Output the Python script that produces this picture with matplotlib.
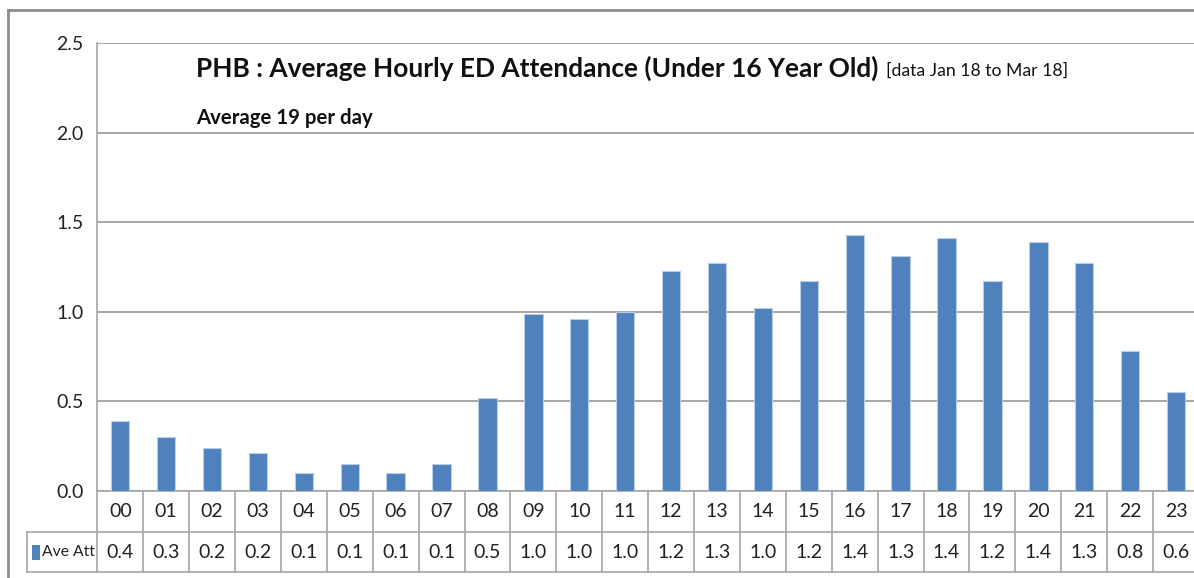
import matplotlib
matplotlib.use("Agg")
import matplotlib.pyplot as plt
from matplotlib.lines import Line2D
from matplotlib.patches import Rectangle
import matplotlib.transforms as mtransforms

hours = ["00", "01", "02", "03", "04", "05", "06", "07", "08", "09", "10", "11",
         "12", "13", "14", "15", "16", "17", "18", "19", "20", "21", "22", "23"]
ave_att = [0.39, 0.30, 0.24, 0.21, 0.10, 0.15, 0.10, 0.15, 0.52, 0.99, 0.96, 1.00,
           1.23, 1.27, 1.02, 1.17, 1.43, 1.31, 1.41, 1.17, 1.39, 1.27, 0.78, 0.55]
yticks = [0.0, 0.5, 1.0, 1.5, 2.0, 2.5]
series_name = "Ave Att"
title = "PHB : Average Hourly ED Attendance (Under 16 Year Old)"
subtitle_small = "[data Jan 18 to Mar 18]"
subtitle = "Average 19 per day"

FONT = ["Lato", "DejaVu Sans"]
plt.rcParams["font.family"] = FONT

W, H = 1194, 578
fig = plt.figure(figsize=(W / 100, H / 100), dpi=100)
fig.patch.set_facecolor("white")
renderer = fig.canvas.get_renderer()

def fx(px):
    return px / W

def fy(py):
    return 1 - py / H

def fit_text(t, target_w):
    w = t.get_window_extent(renderer=renderer).width
    t.set_fontsize(t.get_fontsize() * target_w / w)

left_px, right_px, top_px, bot_px = 97.3, 1199.0, 43.0, 491.0
ax = fig.add_axes([fx(left_px), fy(bot_px), fx(right_px - left_px), (bot_px - top_px) / H])

x = list(range(len(hours)))
bar_color = "#4F81BD"
ax.bar(x, ave_att, width=0.4, color=bar_color, edgecolor="#B9CDE5", linewidth=0.8, zorder=3)
ax.set_xlim(-0.5, len(hours) - 0.5)
ax.set_ylim(0, 2.5)
ax.set_yticks(yticks)
ax.set_yticklabels([f"{v:.1f}" for v in yticks], fontsize=14, color="#222222")
ax.tick_params(axis="y", length=0, pad=10)
ax.set_xticks([])
ax.yaxis.grid(True, color="#A6A6A6", linewidth=1.4, zorder=0)
for s in ["top", "right", "bottom"]:
    ax.spines[s].set_visible(False)
ax.spines["left"].set_color("#A6A6A6")
ax.spines["left"].set_linewidth(1.2)

# data table
trans = mtransforms.blended_transform_factory(ax.transData, fig.transFigure)
row1_bot = 532.0
row2_bot = 572.0
line_kw = dict(color="#A6A6A6", linewidth=1.2, clip_on=False)
ax.add_line(Line2D([-0.5, len(hours) - 0.5], [fy(bot_px)] * 2, transform=trans, **line_kw))
ax.add_line(Line2D([-0.5, len(hours) - 0.5], [fy(row1_bot)] * 2, transform=trans, **line_kw))
ax.add_line(Line2D([-0.5, len(hours) - 0.5], [fy(row2_bot)] * 2, transform=trans, **line_kw))
for k in range(len(hours) + 1):
    ax.add_line(Line2D([k - 0.5, k - 0.5], [fy(bot_px), fy(row2_bot)], transform=trans, **line_kw))
fig.add_artist(Line2D([fx(27), fx(left_px)], [fy(row1_bot)] * 2, transform=fig.transFigure,
                      color="#A6A6A6", linewidth=1.2))
fig.add_artist(Line2D([fx(27), fx(left_px)], [fy(row2_bot)] * 2, transform=fig.transFigure,
                      color="#A6A6A6", linewidth=1.2))
fig.add_artist(Line2D([fx(27), fx(27)], [fy(row1_bot), fy(row2_bot)], transform=fig.transFigure,
                      color="#A6A6A6", linewidth=1.2))
fig.add_artist(Rectangle((fx(32), fy(560)), fx(8), (560 - 545) / H, transform=fig.transFigure,
                         facecolor=bar_color, edgecolor="none"))
t_leg = fig.text(fx(42), fy(552), series_name, fontsize=13, ha="left", va="center", color="#222222")
fit_text(t_leg, 53)

for i, h in enumerate(hours):
    ax.text(i, fy(511.5), h, transform=trans, ha="center", va="center", fontsize=14, color="#222222")
    ax.text(i, fy(552), f"{ave_att[i]:.1f}", transform=trans, ha="center", va="center",
            fontsize=14, color="#222222")

# titles
t1 = fig.text(fx(196), fy(68), title, fontsize=25, fontweight="bold", ha="left", va="center", color="#111111")
fit_text(t1, 682)
t2 = fig.text(fx(1068), fy(71), subtitle_small, fontsize=14, ha="right", va="center", color="#111111")
fit_text(t2, 183)
t3 = fig.text(fx(196), fy(118), subtitle, fontsize=17, fontweight="bold", ha="left", va="center", color="#111111")
fit_text(t3, 177)

# outer chart border
fig.add_artist(Line2D([fx(7.5), fx(7.5)], [fy(10), 0], transform=fig.transFigure, color="#8C8C8C", linewidth=2))
fig.add_artist(Line2D([fx(7.5), 1], [fy(10), fy(10)], transform=fig.transFigure, color="#8C8C8C", linewidth=2))

fig.savefig("out.png", dpi=100)
